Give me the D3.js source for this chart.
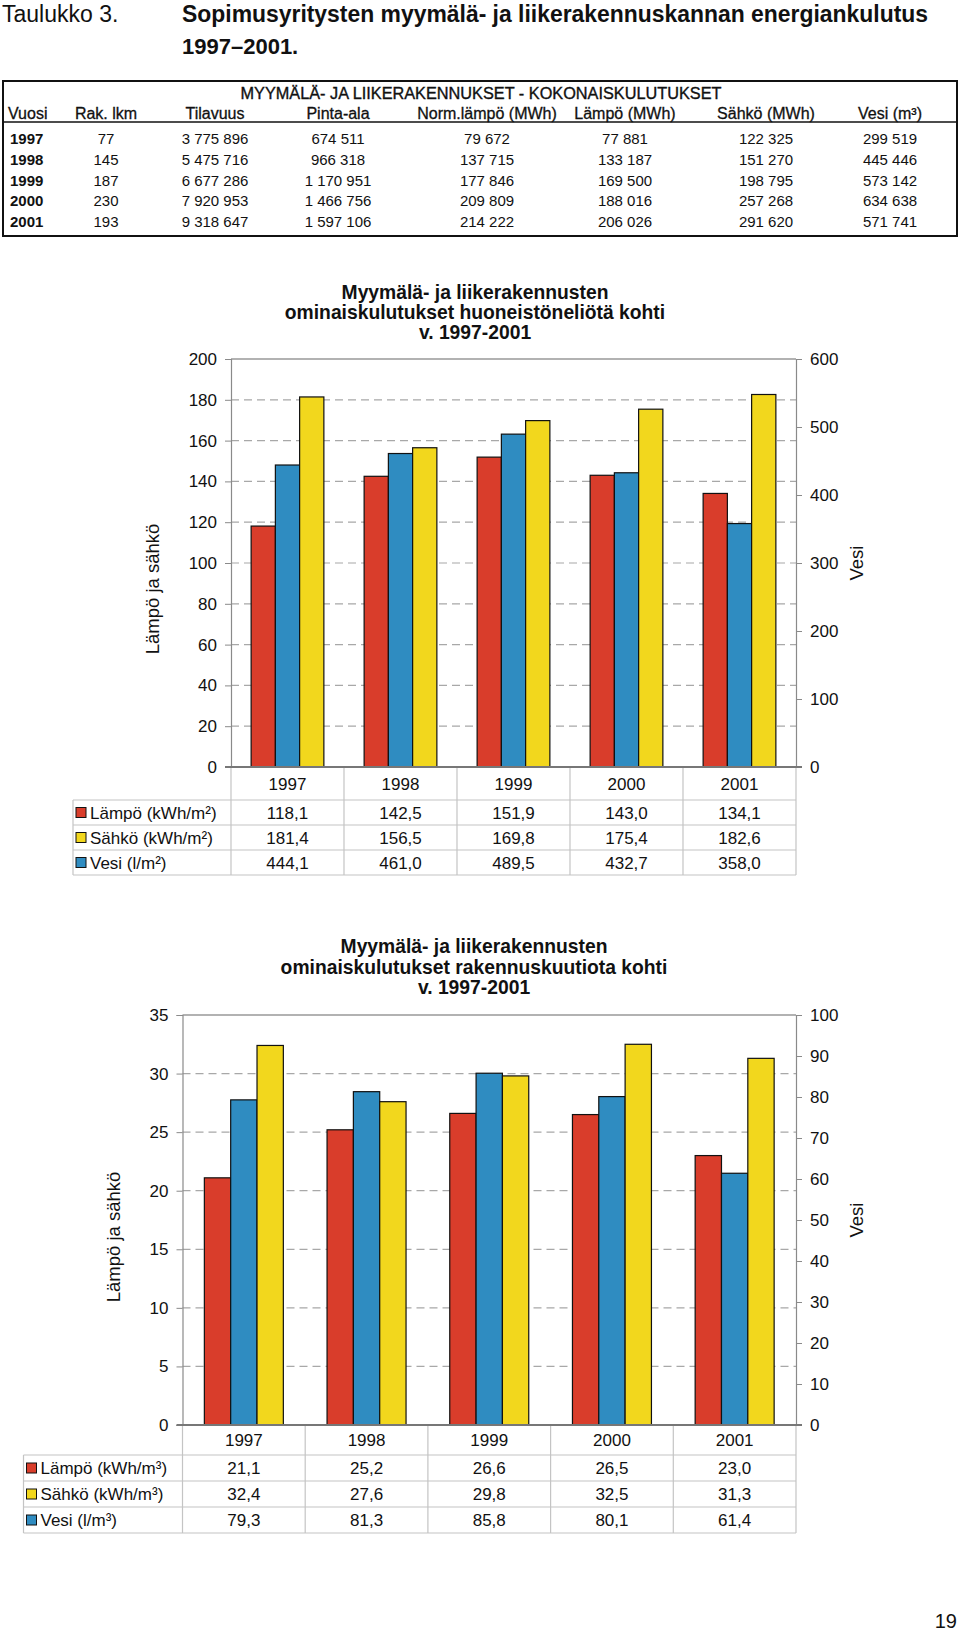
<!DOCTYPE html>
<html><head><meta charset="utf-8">
<script src="https://cdn.jsdelivr.net/npm/d3@7"></script>
<style>
body{margin:0;background:#fff}
svg text{font-family:"Liberation Sans",Arial,Helvetica,sans-serif;fill:#111}
</style></head>
<body><svg id="page" width="960" height="1634"></svg>
<script>
// ---------- data ----------
const years = ["1997","1998","1999","2000","2001"];
// top table
const tableColumns = ["Vuosi","Rak. lkm","Tilavuus","Pinta-ala","Norm.lämpö (MWh)","Lämpö (MWh)","Sähkö (MWh)","Vesi (m³)"];
const rakLkm   = [77,145,187,230,193];
const tilavuus = [3775896,5475716,6677286,7920953,9318647];
const pintaAla = [674511,966318,1170951,1466756,1597106];
const normLampo= [79672,137715,177846,209809,214222];
const lampoMWh = [77881,133187,169500,188016,206026];
const sahkoMWh = [122325,151270,198795,257268,291620];
const vesiM3   = [299519,445446,573142,634638,571741];
// chart 1 (per m²)
const c1Lampo = [118.1,142.5,151.9,143.0,134.1];
const c1Sahko = [181.4,156.5,169.8,175.4,182.6];
const c1Vesi  = [444.1,461.0,489.5,432.7,358.0];
const c1LeftTicks  = [0,20,40,60,80,100,120,140,160,180,200];
const c1RightTicks = [0,100,200,300,400,500,600];
// chart 2 (per m³)
const c2Lampo = [21.1,25.2,26.6,26.5,23.0];
const c2Sahko = [32.4,27.6,29.8,32.5,31.3];
const c2Vesi  = [79.3,81.3,85.8,80.1,61.4];
const c2LeftTicks  = [0,5,10,15,20,25,30,35];
const c2RightTicks = [0,10,20,30,40,50,60,70,80,90,100];

const COL = {L:"#d93d2b", V:"#2f8cc1", S:"#f2d71d"};
const FONT = '"Liberation Sans",Arial,Helvetica,sans-serif';
const svg = d3.select("#page");
const loc = d3.formatLocale({decimal:",",thousands:" ",grouping:[3],currency:["",""]});
const fmtInt = loc.format(",d");
const fmt1 = loc.format(".1f");

// ---------- heading ----------
svg.append("text").attr("x",2).attr("y",22).attr("font-size",23).text("Taulukko 3.");
svg.append("text").attr("x",182).attr("y",22).attr("font-size",23).attr("font-weight","bold")
  .attr("textLength",746).attr("lengthAdjust","spacingAndGlyphs")
  .text("Sopimusyritysten myymälä- ja liikerakennuskannan energiankulutus");
svg.append("text").attr("x",182).attr("y",54).attr("font-size",22).attr("font-weight","bold").text("1997–2001.");

// ---------- top table ----------
const tb = {x0:3, x1:957, top:81, bottom:236, header:113, line:122, rowY:[139,160,180.5,201,222]};
svg.append("rect").attr("x",tb.x0).attr("y",tb.top).attr("width",tb.x1-tb.x0).attr("height",tb.bottom-tb.top)
  .attr("fill","none").attr("stroke","#111").attr("stroke-width",2);
svg.append("line").attr("x1",tb.x0).attr("x2",tb.x1).attr("y1",tb.line).attr("y2",tb.line).attr("stroke","#111").attr("stroke-width",1.5);
svg.append("text").attr("x",481).attr("y",99).attr("text-anchor","middle").attr("font-size",16.3)
  .attr("stroke","#111").attr("stroke-width",0.35)
  .text("MYYMÄLÄ- JA LIIKERAKENNUKSET - KOKONAISKULUTUKSET");
const colX = [8,106,215,338,487,625,766,890];
const colAnchor = ["start","middle","middle","middle","middle","middle","middle","middle"];
const colData = [years, rakLkm, tilavuus, pintaAla, normLampo, lampoMWh, sahkoMWh, vesiM3];
tableColumns.forEach((c,i)=>{
  svg.append("text").attr("x",colX[i]).attr("y",tb.header+6).attr("text-anchor",colAnchor[i]).attr("font-size",16)
    .attr("stroke","#111").attr("stroke-width",0.3).text(c);
});
colData.forEach((arr,ci)=>{
  svg.selectAll(null).data(arr).enter().append("text")
    .attr("x",ci===0?10:colX[ci]).attr("y",(d,i)=>tb.rowY[i]+5)
    .attr("text-anchor",colAnchor[ci]).attr("font-size",15)
    .attr("font-weight",ci===0?"bold":"normal")
    .text(d=>ci===0?d:fmtInt(d));
});

// ---------- charts ----------
function drawChart(cfg){
  const g = svg.append("g");
  const x = d3.scaleBand().domain(years).range([cfg.x0,cfg.x1]).paddingInner(0).paddingOuter(0);
  const inner = d3.scaleBand().domain(["L","V","S"]).range([0,x.bandwidth()]).paddingInner(0).paddingOuter(0.83);
  const yL = d3.scaleLinear().domain([0,cfg.leftMax]).range([cfg.y0,cfg.yTop]);
  const yR = d3.scaleLinear().domain([0,cfg.rightMax]).range([cfg.y0,cfg.yTop]);

  // title
  cfg.title.forEach((t,i)=>{
    g.append("text").attr("x",cfg.titleX).attr("y",cfg.titleY+i*cfg.titleGap).attr("text-anchor","middle")
      .attr("font-size",19.3).attr("font-weight","bold").text(t);
  });
  // gridlines
  g.selectAll(null).data(cfg.leftTicks.filter(t=>t>0 && t<cfg.leftMax)).enter().append("line")
    .attr("x1",cfg.x0).attr("x2",cfg.x1).attr("y1",d=>yL(d)).attr("y2",d=>yL(d))
    .attr("stroke","#a8a8a8").attr("stroke-width",1.2).attr("stroke-dasharray","8,5");
  // top line
  g.append("line").attr("x1",cfg.x0).attr("x2",cfg.x1).attr("y1",yL(cfg.leftMax)).attr("y2",yL(cfg.leftMax))
    .attr("stroke","#999").attr("stroke-width",1.5);
  // axes
  const axL = g.append("g").attr("transform",`translate(${cfg.x0},0)`)
    .call(d3.axisLeft(yL).tickValues(cfg.leftTicks).tickSize(6).tickPadding(8).tickFormat(d3.format("d")));
  const axR = g.append("g").attr("transform",`translate(${cfg.x1},0)`)
    .call(d3.axisRight(yR).tickValues(cfg.rightTicks).tickSize(6).tickPadding(8).tickFormat(d3.format("d")));
  [axL,axR].forEach(a=>{
    a.select(".domain").attr("stroke","#8a8a8a").attr("stroke-width",1.2);
    a.selectAll(".tick line").attr("stroke","#8a8a8a");
    a.selectAll(".tick text").attr("font-size",17).attr("font-family",FONT).attr("fill","#111");
  });
  // bars
  const series = [{k:"L",v:cfg.lampo,s:yL},{k:"V",v:cfg.vesi,s:yR},{k:"S",v:cfg.sahko,s:yL}];
  series.forEach(se=>{
    g.selectAll(null).data(years).enter().append("rect")
      .attr("x",(d)=>x(d)+inner(se.k)).attr("width",inner.bandwidth())
      .attr("y",(d,i)=>se.s(se.v[i])).attr("height",(d,i)=>cfg.y0-se.s(se.v[i]))
      .attr("fill",COL[se.k]).attr("stroke","#111").attr("stroke-width",1.2);
  });
  // x axis line
  g.append("line").attr("x1",cfg.x0-6).attr("x2",cfg.x1+6).attr("y1",cfg.y0).attr("y2",cfg.y0)
    .attr("stroke","#777").attr("stroke-width",2.2);
  // axis titles
  g.append("text").attr("transform",`translate(${cfg.ltX},${cfg.ltY}) rotate(-90)`).attr("text-anchor","middle")
    .attr("font-size",18.5).text("Lämpö ja sähkö");
  g.append("text").attr("transform",`translate(${cfg.rtX},${cfg.rtY}) rotate(-90)`).attr("text-anchor","middle")
    .attr("font-size",18.5).text("Vesi");
  // data table
  const rows = cfg.rowLines; // [yearBottom, r1, r2, r3]
  const gridC = "#c4c4c4";
  const bounds = years.map(d=>x(d)).concat([cfg.x1]);
  g.selectAll(null).data(bounds).enter().append("line")
    .attr("x1",d=>d).attr("x2",d=>d).attr("y1",cfg.y0+1).attr("y2",rows[3])
    .attr("stroke",gridC).attr("stroke-width",1.2);
  g.selectAll(null).data(rows).enter().append("line")
    .attr("x1",cfg.tx0).attr("x2",cfg.x1).attr("y1",d=>d).attr("y2",d=>d)
    .attr("stroke",gridC).attr("stroke-width",1.2);
  g.append("line").attr("x1",cfg.tx0).attr("x2",cfg.tx0).attr("y1",rows[0]).attr("y2",rows[3])
    .attr("stroke",gridC).attr("stroke-width",1.2);
  g.selectAll(null).data(years).enter().append("text")
    .attr("x",d=>x(d)+x.bandwidth()/2).attr("y",(cfg.y0+rows[0])/2+6).attr("text-anchor","middle")
    .attr("font-size",17).text(d=>d);
  const legend = [{k:"L",label:cfg.labels[0],v:cfg.lampo},{k:"S",label:cfg.labels[1],v:cfg.sahko},{k:"V",label:cfg.labels[2],v:cfg.vesi}];
  legend.forEach((L,ri)=>{
    const cy = (rows[ri]+rows[ri+1])/2;
    g.append("rect").attr("x",cfg.tx0+3).attr("y",cy-5).attr("width",10).attr("height",10)
      .attr("fill",COL[L.k]).attr("stroke","#111").attr("stroke-width",1);
    g.append("text").attr("x",cfg.tx0+17).attr("y",cy+6).attr("font-size",17).text(L.label);
    g.selectAll(null).data(L.v).enter().append("text")
      .attr("x",(d,i)=>x(years[i])+x.bandwidth()/2).attr("y",cy+6).attr("text-anchor","middle")
      .attr("font-size",17).text(d=>fmt1(d));
  });
}

drawChart({
  x0:231, x1:796, y0:767, yTop:359, leftMax:200, rightMax:600,
  leftTicks:c1LeftTicks, rightTicks:c1RightTicks,
  lampo:c1Lampo, sahko:c1Sahko, vesi:c1Vesi,
  title:["Myymälä- ja liikerakennusten","ominaiskulutukset huoneistöneliötä kohti","v. 1997-2001"],
  titleX:475, titleY:299, titleGap:20,
  ltX:159, ltY:589, rtX:863, rtY:563,
  tx0:73, rowLines:[800,825,850,875],
  labels:["Lämpö (kWh/m²)","Sähkö (kWh/m²)","Vesi (l/m²)"]
});
drawChart({
  x0:182.5, x1:796, y0:1425, yTop:1015, leftMax:35, rightMax:100,
  leftTicks:c2LeftTicks, rightTicks:c2RightTicks,
  lampo:c2Lampo, sahko:c2Sahko, vesi:c2Vesi,
  title:["Myymälä- ja liikerakennusten","ominaiskulutukset rakennuskuutiota kohti","v. 1997-2001"],
  titleX:474, titleY:953, titleGap:20.5,
  ltX:120, ltY:1237, rtX:863, rtY:1220,
  tx0:23.5, rowLines:[1455,1481,1507,1533],
  labels:["Lämpö (kWh/m³)","Sähkö (kWh/m³)","Vesi (l/m³)"]
});

// page number
svg.append("text").attr("x",957).attr("y",1628).attr("text-anchor","end").attr("font-size",20).text("19");
</script></body></html>
